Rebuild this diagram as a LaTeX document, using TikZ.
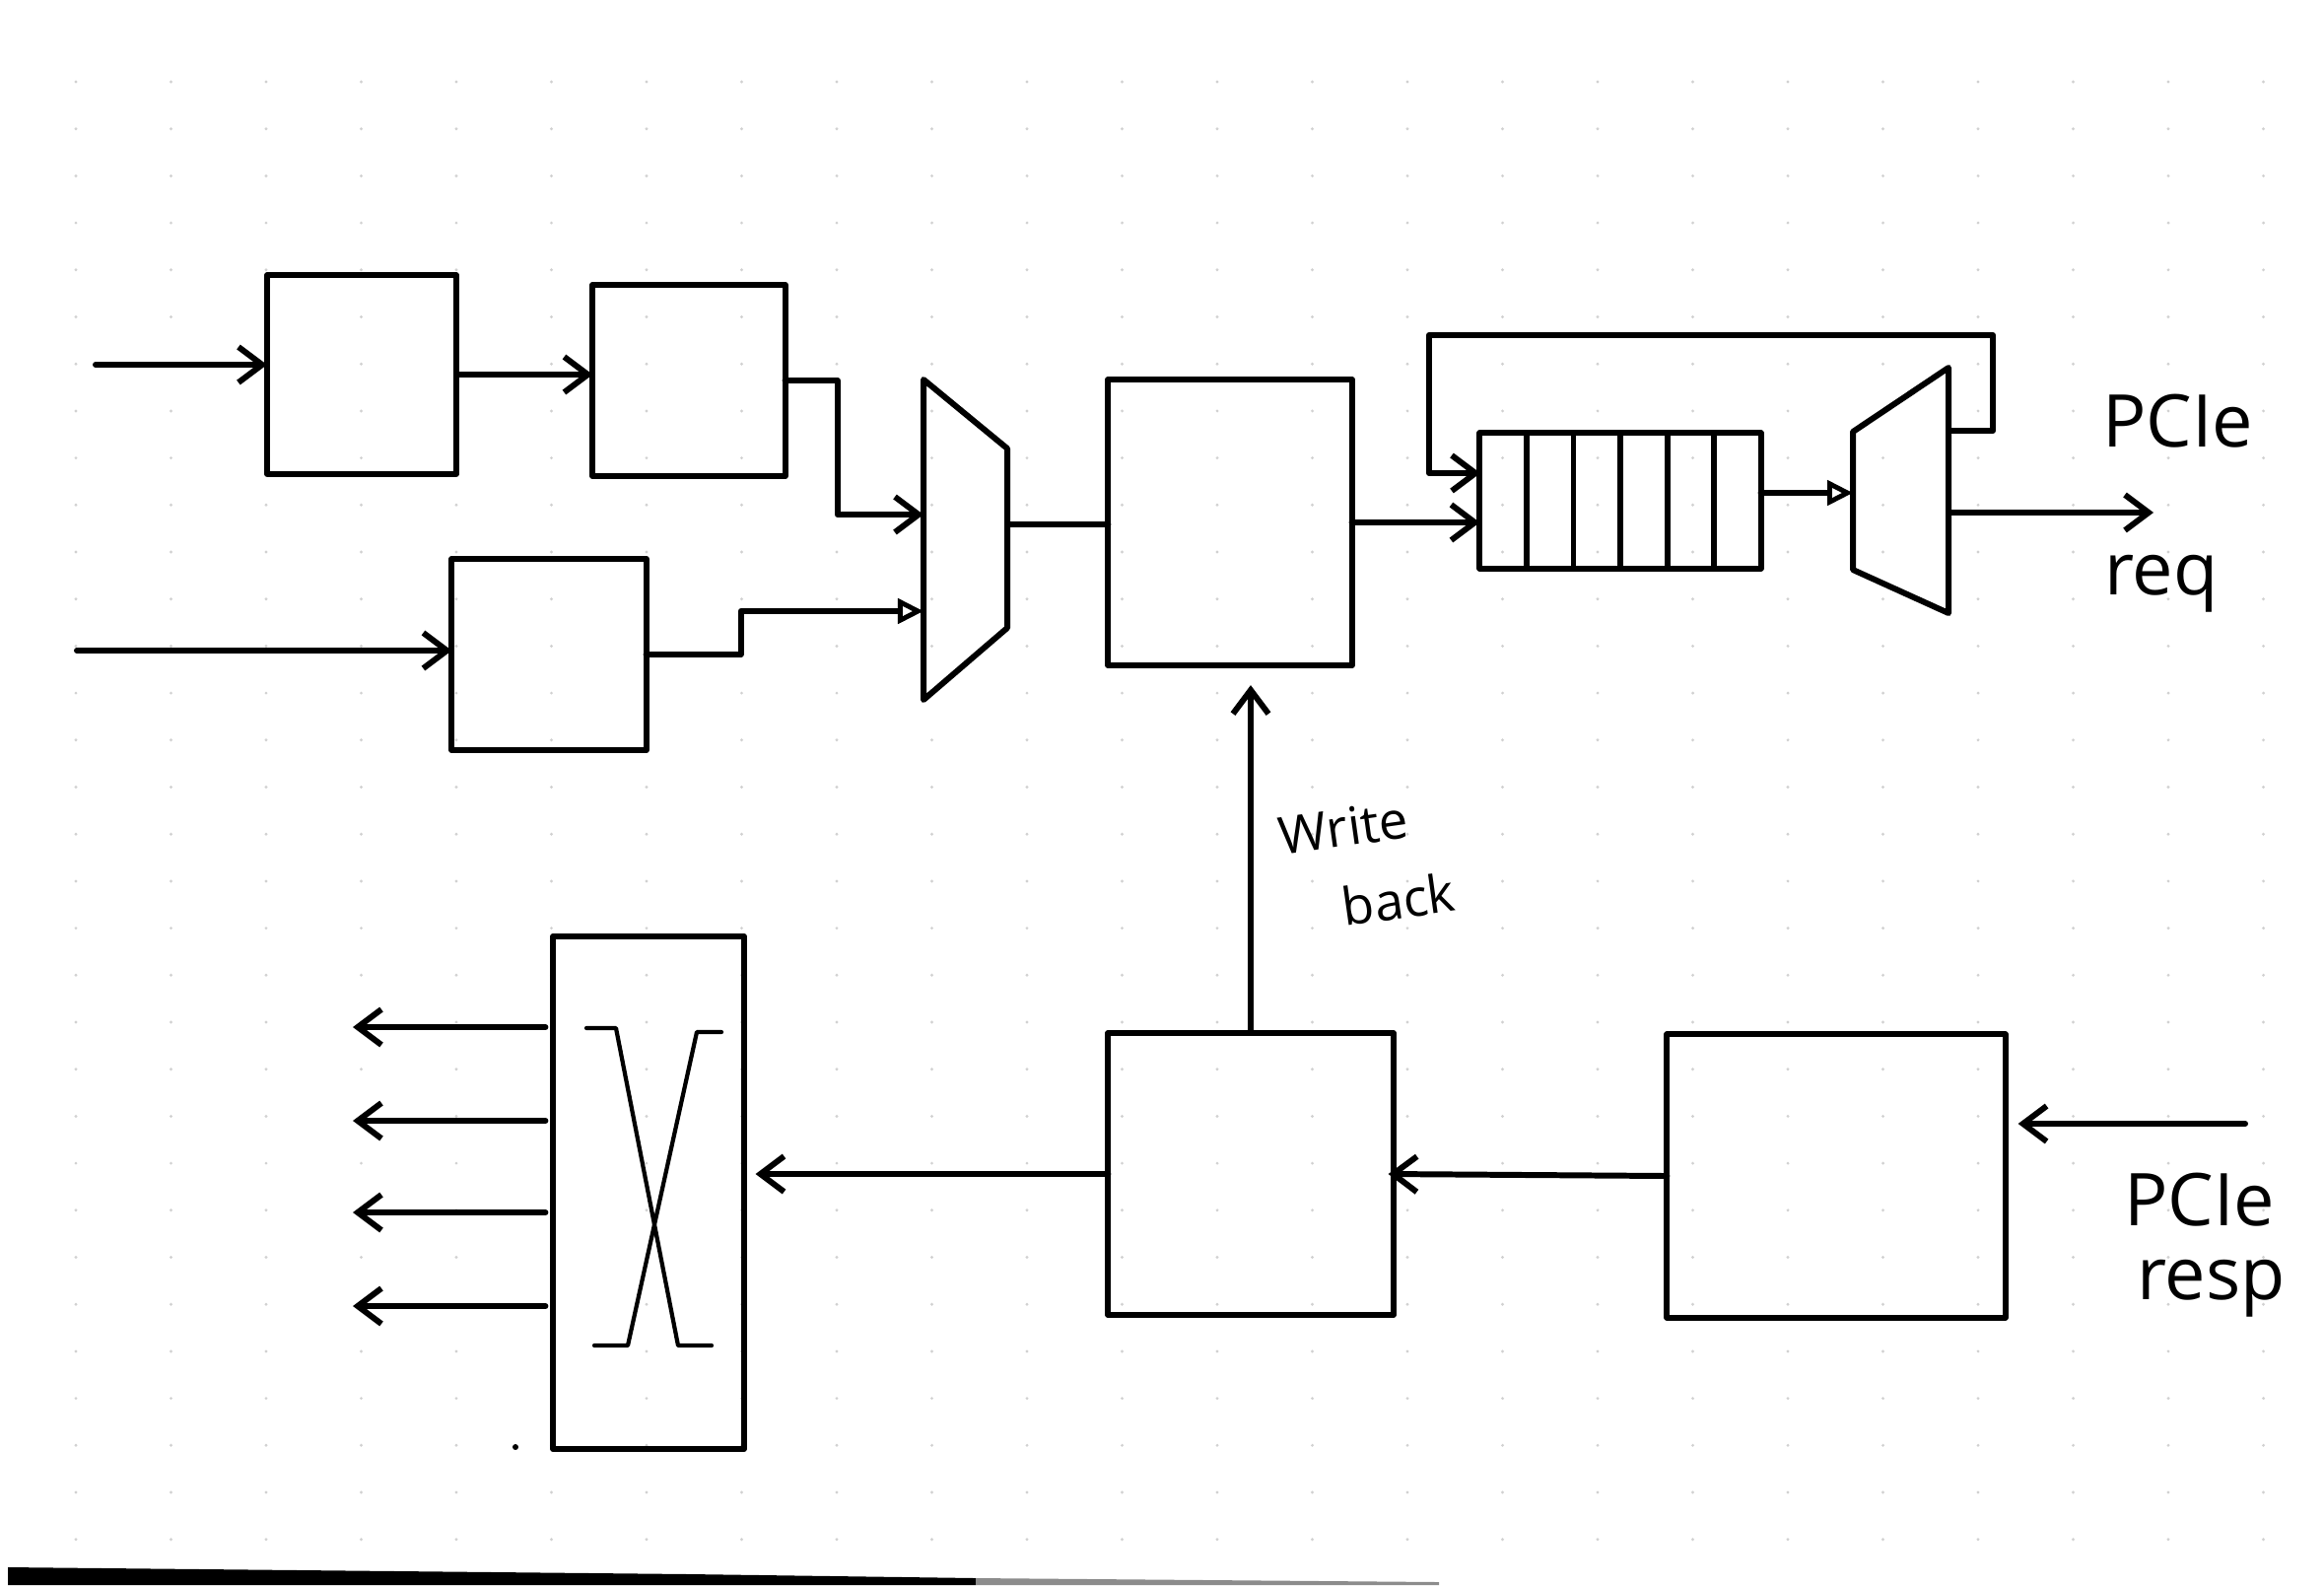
\documentclass[tikz,border=0pt]{standalone}
\usepackage{fontspec}
\setmainfont{Open Sans}
\usetikzlibrary{arrows.meta,calc}

\begin{document}
\begin{tikzpicture}[
    x=0.01cm, y=-0.01cm,
    >={Straight Barb[length=2.4mm, width=3.6mm]},
    line width=1.7pt, line cap=round, line join=round,
    box/.style={draw, inner sep=0pt, outer sep=0pt},
    arr/.style={->},
    tri/.style={-{Triangle[open, length=2.6mm, width=2.5mm, line width=1.4pt]}},
    lbl/.style={anchor=base west, inner sep=0pt, font=\fontsize{21}{24}\selectfont},
    wbl/.style={anchor=base west, inner sep=0pt, rotate=8, font=\fontsize{15}{17}\selectfont}
]
    \useasboundingbox (0,0) rectangle (2358,1608);
    % paper dots and the dark edge at the bottom
    \foreach \i in {0,...,23}
        \foreach \j in {0,...,31}
            \fill[black!18] ({77+96.5*\i},{83+47.7*\j}) circle (1.6);
    \fill[black] (8,1590) -- (700,1597) -- (990,1601) -- (990,1608) -- (8,1608) -- cycle;
    \fill[black!45] (990,1601) -- (1460,1605) -- (1460,1608) -- (990,1608) -- cycle;

    % request side
    \node[box, minimum width=1.92cm, minimum height=2.01cm] (stgA) at (367,380) {};
    \node[box, minimum width=1.95cm, minimum height=1.94cm] (stgB) at (699,386) {};
    \node[box, minimum width=1.97cm, minimum height=1.94cm] (stgC) at (557,664) {};
    \node[box, minimum width=2.47cm, minimum height=2.90cm] (arb) at (1248,530) {};
    \node[box, minimum width=2.85cm, minimum height=1.37cm] (fifo) at (1644,508) {};
    \foreach \k in {1,...,5}
        \draw ($(fifo.north west)!\k/6!(fifo.north east)$) -- ($(fifo.south west)!\k/6!(fifo.south east)$);

    % muxes
    \draw (937,385) -- (1022,455) -- (1022,637) -- (937,710) -- cycle;
    \coordinate (m1in1) at (937,522);
    \coordinate (m1in2) at (937,620);
    \coordinate (m1out) at (1022,532);
    \draw (1880,438) -- (1977,373) -- (1977,622) -- (1880,578) -- cycle;
    \coordinate (m2in) at (1880,500);
    \coordinate (m2out) at (1977,520);
    \coordinate (m2fb) at (1977,437);

    \coordinate (in1) at (97,370);
    \coordinate (in2) at (78,660);
    \coordinate (fbtop) at (1450,340);
    \coordinate (fifoin) at (1502,480);
    \coordinate (reqout) at (2185,520);

    \draw[arr] (in1) -- (in1 -| stgA.west);
    \draw[arr] (stgA.east) -- (stgA.east -| stgB.west);
    \draw[arr] (stgB.east) -- ++(53,0) |- (m1in1);
    \draw[arr] (in2) -- (in2 -| stgC.west);
    \draw[tri] (stgC.east) -- ++(96,0) |- (m1in2);
    \draw (m1out) -- (m1out -| arb.west);
    \draw[arr] (arb.east) -- (arb.east -| fifo.west);
    \draw[arr] (m2fb) -- ++(45,0) |- (fbtop) |- (fifoin);
    \draw[tri] (fifo.east |- m2in) -- (m2in);
    \draw[arr] (m2out) -- (reqout);
    \node[lbl] (lreqA) at (2130,453) {PCIe};
    \node[lbl] (lreqB) at (2132,603) {req};

    % response side
    \node[box, minimum width=1.93cm, minimum height=5.20cm] (xbar) at (658,1210) {};
    \node[box, minimum width=2.89cm, minimum height=2.86cm] (cpl) at (1269,1191) {};
    \node[box, minimum width=3.43cm, minimum height=2.87cm] (rxq) at (1863,1193) {};
    \coordinate (rspin) at (2278,1140);
    \draw[arr] (rspin) -- ([xshift=0.13cm]rxq.east |- rspin);
    \draw[arr] (rxq.west) -- ([xshift=-0.05cm]cpl.east);
    \draw[arr] (cpl.west) -- ([xshift=0.12cm]xbar.east |- cpl.west);
    \draw[arr, shorten >=0.2cm] (cpl.north) -- (cpl.north |- arb.south);
    \node[lbl] (lrspA) at (2152,1243) {PCIe};
    \node[lbl] (lrspB) at (2165,1318) {resp};
    \node[wbl] (lwbA) at (1298,868) {Write};
    \node[wbl] (lwbB) at (1362,940) {back};

    % crossbar
    \draw[line width=1.2pt] (595,1043) -- (625,1043) -- (688,1365) -- (722,1365);
    \draw[line width=1.2pt] (732,1047) -- (707,1047) -- (637,1365) -- (603,1365);
    \foreach \y [count=\i] in {1042,1137,1230,1325} {
        \coordinate (out\i) at (358,\y);
        \draw[arr] ([xshift=-0.08cm]xbar.west |- out\i) -- (out\i);
    }
    \fill (523,1468) circle (3);
\end{tikzpicture}
\end{document}
